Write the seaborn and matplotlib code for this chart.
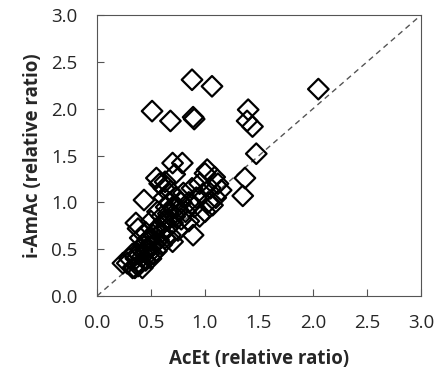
import matplotlib
matplotlib.use("Agg")
import matplotlib.pyplot as plt
import seaborn as sns
import pandas as pd

acet = [0.88, 1.065, 2.05, 0.51, 0.68, 0.89, 0.90, 1.40, 1.39, 1.44, 1.475, 1.37, 1.35,
        0.435, 0.89, 0.79, 0.70, 0.55, 1.00, 1.09, 1.15, 1.07, 0.95, 0.36, 0.38, 0.24, 0.35,
        0.70, 0.63, 1.02, 0.98, 0.74, 0.65,
        0.28, 0.33, 0.36, 0.38, 0.40, 0.40, 0.42, 0.43, 0.45, 0.45, 0.47, 0.48, 0.50, 0.50,
        0.52, 0.53, 0.55, 0.55, 0.57, 0.58, 0.60, 0.60, 0.62, 0.63, 0.65, 0.66, 0.68, 0.70,
        0.70, 0.72, 0.73, 0.75, 0.75, 0.78, 0.78, 0.80, 0.82, 0.85, 0.85, 0.88, 0.90, 0.92,
        0.95, 1.00, 1.03, 1.05, 1.10, 1.12,
        0.58, 0.62, 0.62, 0.68, 0.72, 0.67, 0.50, 0.45, 0.40, 0.33, 0.30, 0.38, 0.42, 0.50,
        0.55, 0.47, 0.52, 0.60, 0.64, 0.56]
iamac = [2.31, 2.24, 2.21, 1.975, 1.87, 1.91, 1.89, 1.99, 1.87, 1.81, 1.52, 1.26, 1.07,
         1.025, 0.65, 1.42, 1.42, 1.26, 1.31, 1.27, 1.13, 0.97, 0.85, 0.78, 0.72, 0.35, 0.30,
         0.58, 1.22, 1.35, 1.09, 0.95, 0.81,
         0.35, 0.30, 0.40, 0.45, 0.35, 0.50, 0.42, 0.55, 0.38, 0.48, 0.60, 0.45, 0.52, 0.40,
         0.65, 0.55, 0.48, 0.70, 0.60, 0.75, 0.55, 0.68, 0.80, 0.62, 0.72, 0.88, 0.65, 0.78,
         0.95, 0.85, 1.05, 0.70, 0.92, 0.82, 1.00, 1.10, 0.90, 1.00, 0.80, 1.15, 0.95, 1.05,
         1.20, 0.90, 1.00, 1.15, 1.05, 1.20,
         1.20, 1.15, 1.05, 1.12, 1.30, 1.00, 0.80, 0.68, 0.62, 0.45, 0.40, 0.32, 0.30, 0.60,
         0.58, 0.52, 0.45, 0.85, 0.95, 0.90]

df = pd.DataFrame({"AcEt": acet, "iAmAc": iamac})

sns.set_style("white")
plt.rcParams['font.family'] = ['Open Sans', 'DejaVu Sans']

fig = plt.figure(figsize=(4.38, 3.79), dpi=100)
ax = fig.add_axes([0.2215, 0.219, 0.7395, 0.741])

ax.plot([0, 3], [0, 3], linestyle=(0, (4, 3)), color="#555555", linewidth=1.0, zorder=1)
sns.scatterplot(data=df, x="AcEt", y="iAmAc", ax=ax, marker="D", s=110,
                facecolor="none", edgecolor="black", linewidth=1.6, zorder=2)

ticks = [0.0, 0.5, 1.0, 1.5, 2.0, 2.5, 3.0]
ax.set_xlim(0, 3)
ax.set_ylim(0, 3)
ax.set_xticks(ticks)
ax.set_yticks(ticks)
ax.set_xticklabels([f"{t:.1f}" for t in ticks])
ax.set_yticklabels([f"{t:.1f}" for t in ticks])
ax.tick_params(direction="in", length=5, width=0.8, color="#555555", labelsize=13.5,
               top=False, right=False, bottom=True, left=True)
ax.tick_params(axis="x", pad=13)
ax.tick_params(axis="y", pad=14)
for s in ax.spines.values():
    s.set_color("#555555")
    s.set_linewidth(0.8)
ax.set_xlabel("AcEt (relative ratio)", fontsize=13.5, fontweight="bold", labelpad=12)
ax.set_ylabel("i-AmAc (relative ratio)", fontsize=13.5, fontweight="bold", labelpad=6)

fig.savefig("out.png", dpi=100)
